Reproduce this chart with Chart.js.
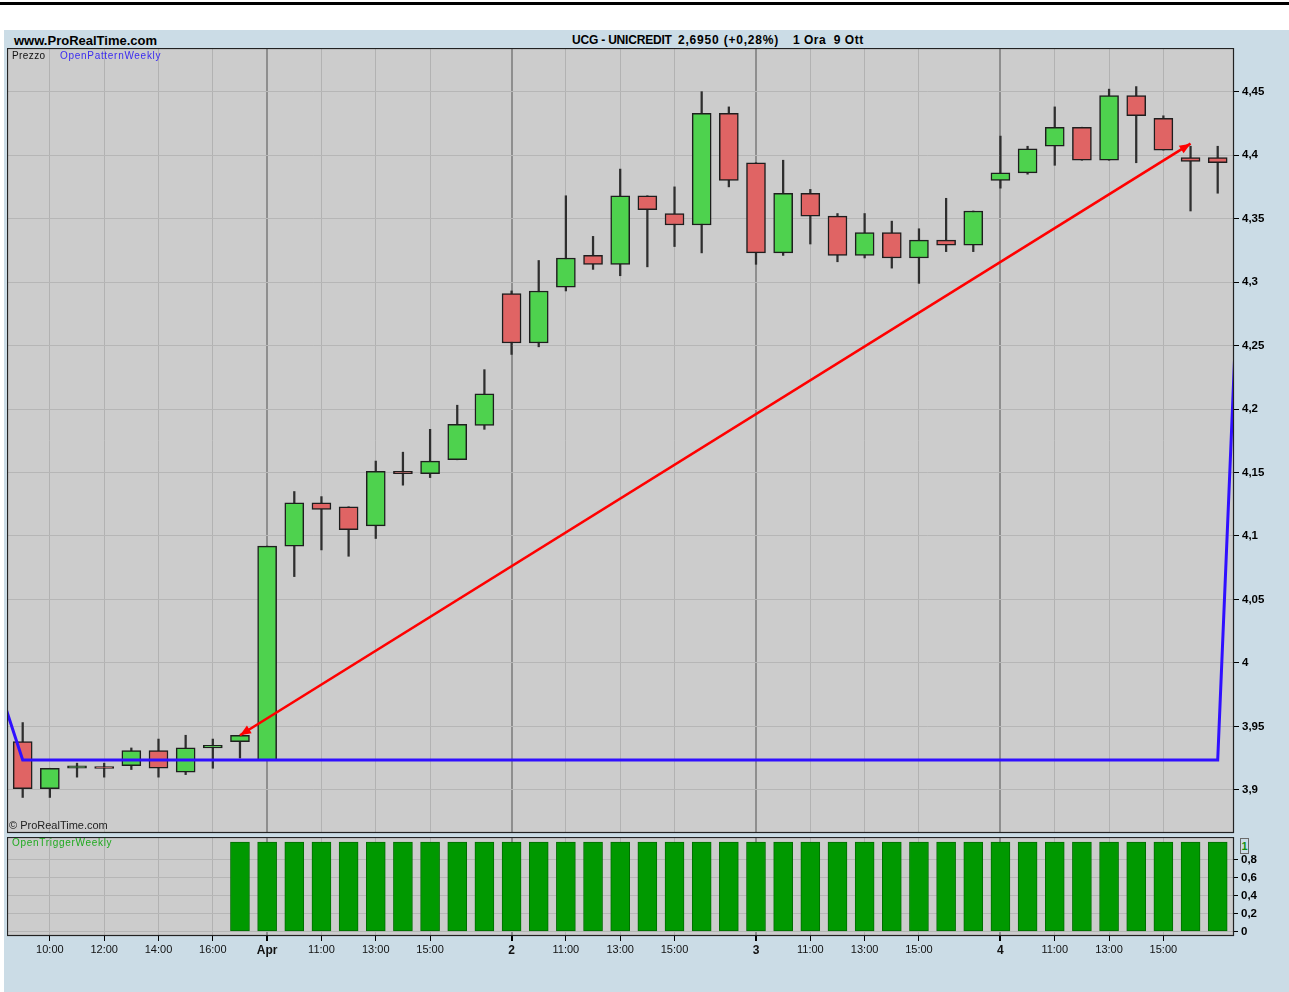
<!DOCTYPE html>
<html>
<head>
<meta charset="utf-8">
<title>UCG - UNICREDIT 1 Ora</title>
<script src="https://cdn.jsdelivr.net/npm/chart.js@4.4.1/dist/chart.umd.min.js"></script>
<style>
  html, body { margin: 0; padding: 0; background: #ffffff; width: 1289px; height: 992px; overflow: hidden; font-family: 'Liberation Sans', Arial, sans-serif; }
  .abs { position: absolute; white-space: pre; }
  #topRule { left: 0; top: 2px; width: 1289px; height: 3px; background: #000; }
  #frame { left: 4px; top: 30px; width: 1285px; height: 962px; background: #cbdce6; }
  #site { left: 14px; top: 33px; font-size: 13px; font-weight: bold; color: #000; }
  .ttl { top: 33px; font-size: 12px; font-weight: bold; color: #000; }
  #mainWrap { left: 7px; top: 48px; width: 1282px; height: 790px; }
  #trigWrap { left: 7px; top: 837px; width: 1282px; height: 155px; }
  #prezzo { left: 12px; top: 50px; font-size: 10px; color: #111; letter-spacing: 0.4px; }
  #patternName { left: 60px; top: 50px; font-size: 10px; color: #3a2bf0; letter-spacing: 0.7px; }
  #copy { left: 9px; top: 819px; font-size: 11px; color: #222; }
  #trigName { left: 12px; top: 837px; font-size: 10px; color: #1faa1f; letter-spacing: 0.7px; }
  #oneBox { left: 1240px; top: 838px; width: 7px; height: 14px; border: 1px solid #6a6a6a; font-size: 11px; font-weight: bold; color: #109010; line-height: 14px; text-align: center; background: #cbdce6; }
</style>
</head>
<body>
<div id="topRule" class="abs"></div>
<div id="frame" class="abs"></div>
<div id="site" class="abs">www.ProRealTime.com</div>
<div class="abs ttl" style="left:572px;letter-spacing:-0.2px">UCG - UNICREDIT</div>
<div class="abs ttl" style="left:678px;letter-spacing:0.8px">2,6950 (+0,28%)</div>
<div class="abs ttl" style="left:793px;letter-spacing:0.5px">1 Ora  9 Ott</div>
<div id="mainWrap" class="abs"><canvas id="priceChart"></canvas></div>
<div id="trigWrap" class="abs"><canvas id="triggerChart"></canvas></div>
<div id="prezzo" class="abs">Prezzo</div>
<div id="patternName" class="abs">OpenPatternWeekly</div>
<div id="copy" class="abs">© ProRealTime.com</div>
<div id="trigName" class="abs">OpenTriggerWeekly</div>
<div id="oneBox" class="abs">1</div>

<script>
// Hourly candles, 9:00 to 17:00, five sessions
const opens = [
  3.938, 3.901, 3.917, 3.9172, 3.919, 3.931, 3.914, 3.933, 3.938,
  3.923, 4.092, 4.126, 4.123, 4.108, 4.151, 4.149, 4.160, 4.187,
  4.291, 4.252, 4.296, 4.321, 4.314, 4.368, 4.354, 4.345, 4.433,
  4.394, 4.323, 4.370, 4.352, 4.321, 4.339, 4.319, 4.333, 4.329,
  4.380, 4.386, 4.407, 4.422, 4.396, 4.447, 4.429, 4.398, 4.398
];
const highs = [
  3.953, 3.917, 3.921, 3.921, 3.933, 3.940, 3.943, 3.940, 3.943,
  4.092, 4.135, 4.131, 4.123, 4.159, 4.166, 4.184, 4.203, 4.231,
  4.293, 4.317, 4.368, 4.336, 4.389, 4.368, 4.375, 4.450, 4.438,
  4.394, 4.396, 4.373, 4.354, 4.354, 4.348, 4.342, 4.366, 4.356,
  4.415, 4.407, 4.438, 4.422, 4.452, 4.454, 4.431, 4.407, 4.407
];
const lows = [
  3.894, 3.894, 3.910, 3.910, 3.916, 3.910, 3.912, 3.917, 3.925,
  3.923, 4.068, 4.089, 4.084, 4.098, 4.140, 4.146, 4.160, 4.184,
  4.243, 4.249, 4.293, 4.310, 4.305, 4.312, 4.328, 4.323, 4.375,
  4.314, 4.321, 4.330, 4.316, 4.319, 4.311, 4.299, 4.324, 4.324,
  4.374, 4.385, 4.392, 4.396, 4.396, 4.394, 4.404, 4.356, 4.370
];
const closes = [
  3.901, 3.917, 3.919, 3.9168, 3.931, 3.917, 3.933, 3.935, 3.943,
  4.092, 4.126, 4.121, 4.105, 4.151, 4.149, 4.159, 4.188, 4.212,
  4.252, 4.293, 4.319, 4.314, 4.368, 4.357, 4.345, 4.433, 4.380,
  4.323, 4.370, 4.352, 4.321, 4.339, 4.319, 4.333, 4.329, 4.356,
  4.386, 4.405, 4.422, 4.396, 4.447, 4.431, 4.404, 4.395, 4.394
];

// Weekly open pattern level, from the bar before the first one to the bar after the last one
const openPatternWeekly = [
  3.989,
  3.9235, 3.9235, 3.9235, 3.9235, 3.9235, 3.9235, 3.9235, 3.9235, 3.9235,
  3.9235, 3.9235, 3.9235, 3.9235, 3.9235, 3.9235, 3.9235, 3.9235, 3.9235,
  3.9235, 3.9235, 3.9235, 3.9235, 3.9235, 3.9235, 3.9235, 3.9235, 3.9235,
  3.9235, 3.9235, 3.9235, 3.9235, 3.9235, 3.9235, 3.9235, 3.9235, 3.9235,
  3.9235, 3.9235, 3.9235, 3.9235, 3.9235, 3.9235, 3.9235, 3.9235, 3.9235,
  4.433
];

// Weekly trigger signal, one value per bar
const openTriggerWeekly = [
  0, 0, 0, 0, 0, 0, 0, 0, 1,
  1, 1, 1, 1, 1, 1, 1, 1, 1,
  1, 1, 1, 1, 1, 1, 1, 1, 1,
  1, 1, 1, 1, 1, 1, 1, 1, 1,
  1, 1, 1, 1, 1, 1, 1, 1, 1
];

// Hand-drawn trend arrow (bar index, price)
const arrowStart = { bar: 8, price: 3.943 };
const arrowEnd = { bar: 43, price: 4.409 };

// Time axis
const timeTickBars = [1, 3, 5, 7, 9, 11, 13, 15, 18, 20, 22, 24, 27, 29, 31, 33, 36, 38, 40, 42];
const timeTickLabels = ['10:00', '12:00', '14:00', '16:00', 'Apr', '11:00', '13:00', '15:00',
  '2', '11:00', '13:00', '15:00', '3', '11:00', '13:00', '15:00', '4', '11:00', '13:00', '15:00'];
const sessionStartBars = [9, 18, 27, 36];

// Price axis and trigger axis ticks
const priceTicks = [3.9, 3.95, 4.0, 4.05, 4.1, 4.15, 4.2, 4.25, 4.3, 4.35, 4.4, 4.45];
const triggerTicks = [0, 0.1, 0.2, 0.3, 0.4, 0.5, 0.6, 0.7, 0.8, 0.9];
const triggerTickLabels = ['0', '', '0,2', '', '0,4', '', '0,6', '', '0,8', ''];

const FONT = "'Liberation Sans', Arial, sans-serif";
const X_MIN = -0.578, X_MAX = 44.6;
const UP = '#4ed24e', DOWN = '#e06464';

const bodies = opens.map((o, i) => ({ x: i, y: [o, closes[i]] }));
const wicks = lows.map((l, i) => ({ x: i, y: [l, highs[i]] }));
const bodyColors = opens.map((o, i) => closes[i] >= o ? UP : DOWN);
const patternPoints = openPatternWeekly.map((v, i) => ({ x: i - 1, y: v }));
const arrowPoints = [{ x: arrowStart.bar, y: arrowStart.price }, { x: arrowEnd.bar, y: arrowEnd.price }];
const triggerBars = openTriggerWeekly.map((v, i) => ({ x: i, y: v }));

const panelFrame = {
  id: 'panelFrame',
  beforeDraw(chart) {
    const { ctx, chartArea: a } = chart;
    ctx.save();
    ctx.fillStyle = '#cccccc';
    ctx.fillRect(a.left, a.top, a.right - a.left, a.bottom - a.top);
    ctx.restore();
  },
  afterDraw(chart) {
    const { ctx, chartArea: a } = chart;
    ctx.save();
    ctx.strokeStyle = '#222';
    ctx.lineWidth = 1.2;
    ctx.strokeRect(a.left + 0.5, a.top + 0.5, a.right - a.left - 1, a.bottom - a.top - 1);
    ctx.restore();
  }
};

const arrowHeads = {
  id: 'arrowHeads',
  afterDatasetsDraw(chart) {
    const idx = chart.data.datasets.findIndex(d => d.label === 'arrow');
    if (idx < 0) return;
    const pts = chart.getDatasetMeta(idx).data;
    if (pts.length < 2) return;
    const { ctx } = chart;
    const head = (tip, from) => {
      const ang = Math.atan2(tip.y - from.y, tip.x - from.x);
      const len = 11, half = 4.5;
      ctx.beginPath();
      ctx.moveTo(tip.x, tip.y);
      ctx.lineTo(tip.x - len * Math.cos(ang) + half * Math.sin(ang), tip.y - len * Math.sin(ang) - half * Math.cos(ang));
      ctx.lineTo(tip.x - len * Math.cos(ang) - half * Math.sin(ang), tip.y - len * Math.sin(ang) + half * Math.cos(ang));
      ctx.closePath();
      ctx.fill();
    };
    ctx.save();
    ctx.fillStyle = '#ff0000';
    head(pts[0], pts[1]);
    head(pts[1], pts[0]);
    ctx.restore();
  }
};

const verticalGrid = {
  display: true,
  offset: false,
  drawTicks: false,
  color: (c) => (c.tick && sessionStartBars.includes(c.tick.value)) ? '#8e8e8e' : '#b2b2b2',
  lineWidth: (c) => (c.tick && sessionStartBars.includes(c.tick.value)) ? 2 : 1
};

function setTimeTicks(scale) {
  scale.ticks = timeTickBars.map(v => ({ value: v }));
}

function fixWidth(w) {
  return (scale) => { scale.width = w; scale.paddingTop = 0; scale.paddingBottom = 0; };
}

const priceFmt = (v) => String(Number(v.toFixed(2))).replace('.', ',');

new Chart(document.getElementById('priceChart'), {
  type: 'bar',
  data: {
    datasets: [
      { label: 'arrow', type: 'line', data: arrowPoints, borderColor: '#ff0000', borderWidth: 2.6,
        pointRadius: 0, tension: 0, order: 0 },
      { label: 'OpenPatternWeekly', type: 'line', data: patternPoints, borderColor: '#3010ff', borderWidth: 3,
        pointRadius: 0, tension: 0, order: 1 },
      { label: 'body', data: bodies, backgroundColor: bodyColors, borderColor: '#1e1e1e', borderWidth: 1.5,
        borderSkipped: false, barThickness: 19, minBarLength: 2, grouped: false, order: 2 },
      { label: 'wick', data: wicks, backgroundColor: '#2e2e2e', borderWidth: 0,
        barThickness: 1.6, grouped: false, order: 3 }
    ]
  },
  options: {
    responsive: true,
    maintainAspectRatio: false,
    animation: false,
    events: [],
    layout: { padding: { top: 0, left: 0, right: 0, bottom: 5 } },
    plugins: { legend: { display: false }, tooltip: { enabled: false } },
    scales: {
      x: {
        type: 'linear', min: X_MIN, max: X_MAX, offset: false,
        afterBuildTicks: setTimeTicks,
        afterFit: (s) => { s.height = 0; s.paddingLeft = 0; s.paddingRight = 0; },
        ticks: { display: false },
        grid: verticalGrid,
        border: { display: false }
      },
      y: {
        position: 'right', min: 3.866, max: 4.4844,
        afterBuildTicks: (s) => { s.ticks = priceTicks.map(v => ({ value: v })); },
        afterFit: fixWidth(55),
        ticks: { callback: (v) => priceFmt(v), color: '#000', padding: 3,
                 font: { family: FONT, size: 11.5, weight: 'bold' } },
        grid: { color: '#b6b6b6', lineWidth: 1, drawTicks: true, tickLength: 5, tickColor: '#000' },
        border: { display: false }
      }
    }
  },
  plugins: [panelFrame, arrowHeads]
});

new Chart(document.getElementById('triggerChart'), {
  type: 'bar',
  data: {
    datasets: [
      { label: 'OpenTriggerWeekly', data: triggerBars, backgroundColor: '#009900', borderColor: '#006c00',
        borderWidth: 1, borderSkipped: false, barThickness: 19 }
    ]
  },
  options: {
    responsive: true,
    maintainAspectRatio: false,
    animation: false,
    events: [],
    layout: { padding: 0 },
    plugins: { legend: { display: false }, tooltip: { enabled: false } },
    scales: {
      x: {
        type: 'linear', min: X_MIN, max: X_MAX, offset: false,
        afterBuildTicks: setTimeTicks,
        afterFit: (s) => { s.height = 56; s.paddingLeft = 0; s.paddingRight = 0; },
        ticks: {
          autoSkip: false, maxRotation: 0, padding: 2, color: '#111',
          callback: (v, i) => timeTickLabels[i],
          font: (c) => ({ family: FONT, size: (c.tick && sessionStartBars.includes(c.tick.value)) ? 12 : 11,
                          weight: (c.tick && sessionStartBars.includes(c.tick.value)) ? 'bold' : 'normal' })
        },
        grid: {
          offset: false, drawTicks: true, tickLength: 5, tickColor: '#000',
          color: verticalGrid.color, lineWidth: verticalGrid.lineWidth
        },
        border: { display: false }
      },
      y: {
        position: 'right', min: -0.05, max: 1.056,
        afterBuildTicks: (s) => { s.ticks = triggerTicks.map(v => ({ value: v })); },
        afterFit: fixWidth(55),
        ticks: { callback: (v, i) => triggerTickLabels[i], color: '#000', padding: 3,
                 font: { family: FONT, size: 11.5, weight: 'bold' } },
        grid: {
          color: (c) => (c.index % 2 === 0) ? '#b6b6b6' : 'rgba(0,0,0,0)',
          drawTicks: true, tickLength: 4, tickColor: '#000'
        },
        border: { display: false }
      }
    }
  },
  plugins: [panelFrame]
});
</script>
</body>
</html>
